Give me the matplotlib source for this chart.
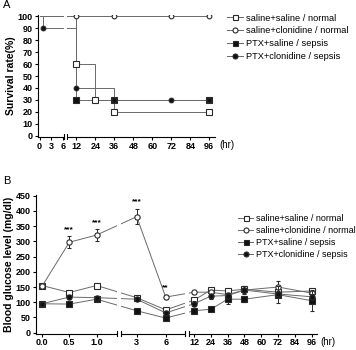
import numpy as np
import matplotlib
matplotlib.use("Agg")
import matplotlib.pyplot as plt
from matplotlib.patches import Rectangle
from matplotlib.lines import Line2D

plt.rcParams['font.family'] = ['Liberation Sans', 'DejaVu Sans']

series_labels = ["saline+saline / normal", "saline+clonidine / normal",
                 "PTX+saline / sepsis", "PTX+clonidine / sepsis"]

# panel A: survival curves (step data)
surv_t = [
    [0, 12, 24, 36, 96],
    [0, 12, 36, 72, 96],
    [0, 12, 36, 96],
    [0, 1, 12, 36, 72, 96],
]
surv_pct = [
    [100, 60, 30, 20, 20],
    [100, 100, 100, 100, 100],
    [100, 30, 30, 30],
    [100, 90, 40, 30, 30, 30],
]
surv_xticks = [0, 3, 6, 12, 24, 36, 48, 60, 72, 84, 96]
surv_yticks = list(range(0, 101, 10))

# panel B: blood glucose
glu_t = [0, 0.5, 1, 3, 6, 12, 24, 36, 48, 72, 96]
glu_mean = [
    [155, 132, 155, 115, 75, 107, 140, 137, 143, 133, 137],
    [152, 297, 321, 381, 117, 133, 133, 125, 140, 150, 130],
    [95, 94, 110, 72, 48, 72, 77, 110, 110, 125, 105],
    [95, 117, 115, 110, 65, 95, 120, 122, 140, 127, 118],
]
glu_sem = [
    [5, 5, 5, 6, 6, 6, 6, 6, 8, 10, 6],
    [5, 20, 19, 25, 6, 5, 5, 6, 8, 20, 8],
    [5, 5, 5, 5, 6, 6, 6, 15, 8, 28, 35],
    [5, 6, 6, 6, 6, 8, 8, 8, 12, 10, 10],
]
glu_xticks = [0, 0.5, 1, 3, 6, 12, 24, 36, 48, 60, 72, 84, 96]
glu_xticklabels = ["0.0", "0.5", "1.0", "3", "6", "12", "24", "36", "48",
                   "60", "72", "84", "96"]
glu_yticks = list(range(0, 451, 50))
star_t = [0.5, 1, 3, 6]
star_y = [337, 361, 430, 149]
star_txt = ["***", "***", "***", "**"]

# marker styles per group
markers = ["s", "o", "s", "o"]
faces = ["white", "white", "#111111", "#111111"]
line_col = "#6a6a6a"
edge_col = "#2a2a2a"

W, H = 356, 350


def broken_scale(knot_t, knot_px):
    kt = np.asarray(knot_t, float)
    kp = np.asarray(knot_px, float)

    def fwd(x):
        return np.interp(x, kt, kp)

    def inv(p):
        return np.interp(p, kp, kt)
    return fwd, inv


def add_break(ax, t0, t1):
    tr = ax.get_xaxis_transform()
    ax.add_patch(Rectangle((t0, -0.04), t1 - t0, 1.05, transform=tr,
                           facecolor="white", edgecolor="none",
                           clip_on=False, zorder=5))
    for t in (t0, t1):
        ax.add_line(Line2D([t, t], [-0.02, 0.02], transform=tr, color="black",
                           lw=0.8, clip_on=False, zorder=6))


def style_axes(ax):
    for s in ("top", "right"):
        ax.spines[s].set_visible(False)
    for s in ("left", "bottom"):
        ax.spines[s].set_linewidth(0.8)
    ax.tick_params(direction="out", length=2.2, width=0.8, pad=1.2,
                   labelsize=6.5)
    for lab in ax.get_xticklabels() + ax.get_yticklabels():
        lab.set_fontweight("bold")


fig = plt.figure(figsize=(W / 100, H / 100), dpi=100)

# ---------------- panel A ----------------
axA = fig.add_axes([37.7 / W, 1 - 136.9 / H, (215 - 37.7) / W, (136.9 - 15.1) / H])
fA, iA = broken_scale([-1000, -0.5, 0, 6, 12, 96, 99.6, 1000],
                      [37.6 - 999.5 * 3.87, 37.6, 39.5, 62.7, 76.3, 209.3, 215, 215 + 900.4 * 1.583])
axA.set_xscale("function", functions=(fA, iA))
for k in range(4):
    axA.step(surv_t[k], surv_pct[k], where="post", color=line_col, lw=0.7, zorder=2)
for k in range(4):
    axA.plot(surv_t[k][1:], surv_pct[k][1:], ls="none", marker=markers[k],
             ms=3.8 if markers[k] == "s" else 3.4, mfc=faces[k], mec=edge_col,
             mew=0.8, zorder=3)
axA.set_xlim(-0.5, 99.6)
axA.set_ylim(-1, 101)
axA.set_xticks(surv_xticks)
axA.set_xticklabels([str(v) for v in surv_xticks])
axA.set_yticks(surv_yticks)
axA.minorticks_off()
axA.set_ylabel("Survival rate(%)", fontsize=7.5, fontweight="bold", labelpad=1.5)
style_axes(axA)
add_break(axA, 6.35, 7.9)
fig.text(219 / W, 1 - 145.5 / H, "(hr)", fontsize=7, va="center", ha="left")
fig.text(3 / W, 1 - 5 / H, "A", fontsize=8, va="center", ha="left")

hA = [Line2D([], [], color=line_col, lw=0.7, marker=markers[k], ms=3.6,
             mfc=faces[k], mec=edge_col, mew=0.8) for k in range(4)]
axA.legend(hA, series_labels, loc="upper left", bbox_to_anchor=(226.7 / W, 1 - 13.6 / H),
           bbox_transform=fig.transFigure, frameon=False, fontsize=6.7,
           handlelength=1.78, handletextpad=0.3, labelspacing=0.4,
           borderpad=0, borderaxespad=0, numpoints=1)

# ---------------- panel B ----------------
axB = fig.add_axes([35.5 / W, 1 - 333.6 / H, (316.7 - 35.5) / W, (333.6 - 195.1) / H])
fB, iB = broken_scale([-1000, -0.12, 0, 1, 3, 6, 12, 96, 99.6, 1000],
                      [35.5 - 999.88 * 54.8, 35.5, 41.9, 96.7, 136.7, 165.7, 194, 311.7, 316.7,
                       316.7 + 900.4 * 1.4])
axB.set_xscale("function", functions=(fB, iB))
for k in range(4):
    axB.errorbar(glu_t, glu_mean[k], yerr=glu_sem[k], color=line_col, lw=0.7,
                 ecolor=edge_col, elinewidth=0.7, capsize=1.5, capthick=0.7,
                 marker=markers[k], ms=3.8, mfc=faces[k], mec=edge_col, mew=0.8,
                 zorder=2 + k * 0.1)
for t, y, s in zip(star_t, star_y, star_txt):
    axB.text(t, y, s, fontsize=6, fontweight="bold", ha="center", va="center")
axB.set_xlim(-0.12, 99.6)
axB.set_ylim(-3, 452)
axB.set_xticks(glu_xticks)
axB.set_xticklabels(glu_xticklabels)
axB.set_yticks(glu_yticks)
axB.minorticks_off()
axB.set_ylabel("Blood glucose level (mg/dl)", fontsize=7.5, fontweight="bold", labelpad=1.5)
style_axes(axB)
add_break(axB, 1.99, 2.19)
add_break(axB, 10.1, 10.9)
fig.text(320 / W, 1 - 342 / H, "(hr)", fontsize=7, va="center", ha="left")
fig.text(3 / W, 1 - 181 / H, "B", fontsize=8, va="center", ha="left")

hB = [Line2D([], [], color=line_col, lw=0.7, marker=markers[k], ms=3.6,
             mfc=faces[k], mec=edge_col, mew=0.8) for k in range(4)]
axB.legend(hB, series_labels, loc="upper left", bbox_to_anchor=(238.3 / W, 1 - 214 / H),
           bbox_transform=fig.transFigure, frameon=False, fontsize=6.5,
           handlelength=1.66, handletextpad=0.3, labelspacing=0.32,
           borderpad=0, borderaxespad=0, numpoints=1)

fig.savefig("out.png", dpi=100)
